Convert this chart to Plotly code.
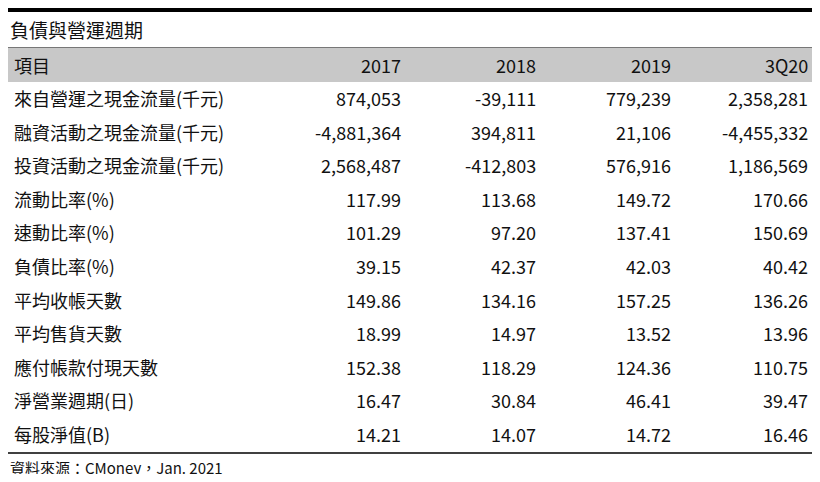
import plotly.graph_objects as go

title = "負債與營運週期"
header = ["項目", "2017", "2018", "2019", "3Q20"]
items = ["來自營運之現金流量(千元)", "融資活動之現金流量(千元)", "投資活動之現金流量(千元)",
         "流動比率(%)", "速動比率(%)", "負債比率(%)", "平均收帳天數", "平均售貨天數",
         "應付帳款付現天數", "淨營業週期(日)", "每股淨值(B)"]
v2017 = ["874,053", "-4,881,364", "2,568,487", "117.99", "101.29", "39.15", "149.86", "18.99", "152.38", "16.47", "14.21"]
v2018 = ["-39,111", "394,811", "-412,803", "113.68", "97.20", "42.37", "134.16", "14.97", "118.29", "30.84", "14.07"]
v2019 = ["779,239", "21,106", "576,916", "149.72", "137.41", "42.03", "157.25", "13.52", "124.36", "46.41", "14.72"]
v3q20 = ["2,358,281", "-4,455,332", "1,186,569", "170.66", "150.69", "40.42", "136.26", "13.96", "110.75", "39.47", "16.46"]
source = "資料來源：CMoney，Jan. 2021"

W, H = 804, 466
OFF = 8
def px(x): return (x - OFF) / W
def py(y): return 1 - (y - OFF) / H

FONT = "Noto Sans CJK TC"
fig = go.Figure()
shapes = [
    dict(type="line", x0=px(8), x1=px(812), y0=py(10), y1=py(10), line=dict(color="black", width=4)),
    dict(type="rect", x0=px(8), x1=px(812), y0=py(48), y1=py(82), fillcolor="#c8c8c8", line=dict(width=0), layer="below"),
    dict(type="line", x0=px(8), x1=px(812), y0=py(47.5), y1=py(47.5), line=dict(color="#777", width=1)),
    dict(type="line", x0=px(8), x1=px(812), y0=py(453), y1=py(453), line=dict(color="black", width=1.5)),
]
ann = []
def t(text, x, y, anchor="left", size=18):
    ann.append(dict(text=text, x=px(x), y=py(y), xref="paper", yref="paper", xanchor=anchor,
                    yanchor="middle", showarrow=False, font=dict(family=FONT, size=size, color="#111")))
t(title, 8, 29, size=19)
t(source, 8, 467, size=15)
colx = [403, 538, 673, 810]
t(header[0], 12, 65)
for j, h in enumerate(header[1:]):
    t(h, colx[j], 65, "right")
cols = [v2017, v2018, v2019, v3q20]
for i, name in enumerate(items):
    y = 98 + i * 33.6
    t(name, 12, y)
    for j, c in enumerate(cols):
        t(c[i], colx[j], y, "right")

fig.update_layout(width=W, height=H, margin=dict(l=0, r=0, t=0, b=0),
                  paper_bgcolor="white", plot_bgcolor="white",
                  xaxis=dict(visible=False, range=[0, 1]), yaxis=dict(visible=False, range=[0, 1]),
                  shapes=shapes, annotations=ann, showlegend=False)
fig.write_html("out.html")
